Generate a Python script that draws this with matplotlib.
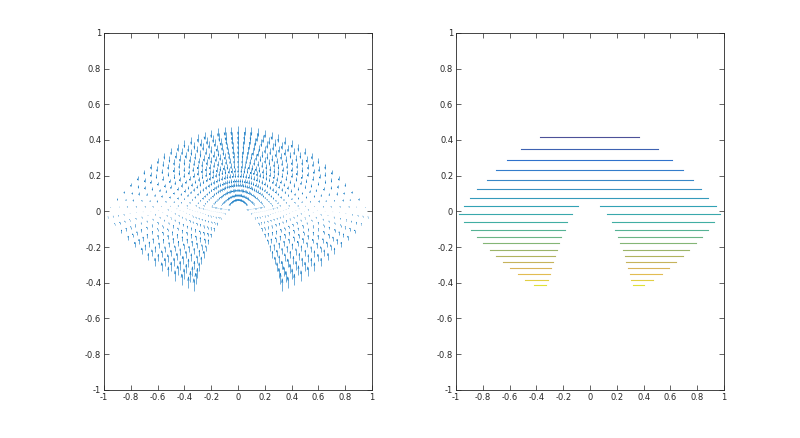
import matplotlib
matplotlib.use("Agg")
import matplotlib.pyplot as plt
import numpy as np
from matplotlib.collections import LineCollection
from matplotlib.colors import LinearSegmentedColormap

# ---- quiver grid: outer tips of the rays ----
centre_up = (0.0, 0.04)
centre_low = (0.0, 0.03)
up_tip_x = [-0.95, -0.90, -0.85, -0.80, -0.75, -0.70, -0.65, -0.60, -0.55, -0.50,
            -0.45, -0.40, -0.35, -0.30, -0.25, -0.20, -0.15, -0.10, -0.05, 0.00,
            0.05, 0.10, 0.15, 0.20, 0.25, 0.30, 0.35, 0.40, 0.45, 0.50,
            0.55, 0.60, 0.65, 0.70, 0.75, 0.80, 0.85, 0.90, 0.95]
up_tip_y = [0.026, 0.072, 0.116, 0.158, 0.197, 0.234, 0.268, 0.300, 0.329, 0.355,
            0.378, 0.398, 0.417, 0.433, 0.447, 0.458, 0.466, 0.472, 0.475, 0.476,
            0.475, 0.472, 0.466, 0.458, 0.447, 0.433, 0.417, 0.398, 0.378, 0.355,
            0.329, 0.300, 0.268, 0.234, 0.197, 0.158, 0.116, 0.072, 0.026]
low_tip_x = [-0.97, -0.92, -0.87, -0.82, -0.77, -0.72, -0.67, -0.62, -0.57, -0.52,
             -0.47, -0.42, -0.37, -0.33,
             0.33, 0.37, 0.42, 0.47, 0.52, 0.57, 0.62, 0.67, 0.72, 0.77,
             0.82, 0.87, 0.92, 0.97]
low_tip_y = [-0.035, -0.078, -0.120, -0.160, -0.200, -0.238, -0.274, -0.306, -0.336, -0.364,
             -0.390, -0.413, -0.432, -0.445,
             -0.445, -0.432, -0.413, -0.390, -0.364, -0.336, -0.306, -0.274, -0.238, -0.200,
             -0.160, -0.120, -0.078, -0.035]
# fraction along each ray (x) and, for the lower lobes, the matching y fraction
up_ring = [0.07, 0.13, 0.20, 0.27, 0.33, 0.40, 0.47, 0.53, 0.60, 0.67, 0.73, 0.80,
           0.87, 0.93, 1.0]
low_ring_x = [0.20, 0.30, 0.39, 0.47, 0.54, 0.61, 0.67, 0.73, 0.78, 0.83, 0.88, 0.92, 0.96, 1.0]
low_ring_y = [0.04, 0.09, 0.15, 0.22, 0.29, 0.37, 0.45, 0.53, 0.61, 0.69, 0.77, 0.85, 0.92, 1.0]

# ---- contour lines of the right panel (level height, left/right ends) ----
lev_y = [0.415, 0.349, 0.289, 0.231, 0.177, 0.125, 0.076, 0.030, -0.017, -0.062,
         -0.103, -0.142, -0.179, -0.217, -0.252, -0.286, -0.319, -0.351, -0.383, -0.415]
lev_x0 = [-0.375, -0.517, -0.623, -0.703, -0.772, -0.842, -0.894, -0.941, -0.978, -0.938,
          -0.888, -0.842, -0.797, -0.747, -0.700, -0.651, -0.596, -0.541, -0.482, -0.415]
lev_x1 = [0.363, 0.504, 0.613, 0.695, 0.770, 0.829, 0.883, 0.938, 0.970, 0.926,
          0.879, 0.834, 0.790, 0.740, 0.695, 0.643, 0.593, 0.541, 0.472, 0.405]
# gap in the middle of the lower levels (inner ends), None = no gap
gap_x0 = [None] * 7 + [-0.091, -0.135, -0.170, -0.190, -0.214, -0.234, -0.249, -0.264,
                       -0.277, -0.291, -0.301, -0.316, -0.331]
gap_x1 = [None] * 7 + [0.078, 0.128, 0.162, 0.184, 0.207, 0.227, 0.244, 0.262,
                       0.271, 0.284, 0.296, 0.306, 0.318]

parula = LinearSegmentedColormap.from_list("parula", [
    (0.208, 0.166, 0.529), (0.012, 0.388, 0.882), (0.078, 0.520, 0.830),
    (0.024, 0.640, 0.750), (0.130, 0.720, 0.630), (0.440, 0.750, 0.420),
    (0.750, 0.730, 0.260), (0.990, 0.740, 0.240), (0.976, 0.983, 0.054)])

ticks = np.arange(-1, 1.01, 0.2)
tick_lbl = ["-1", "-0.8", "-0.6", "-0.4", "-0.2", "0", "0.2", "0.4", "0.6", "0.8", "1"]


def style(ax):
    ax.set_xlim(-1, 1)
    ax.set_ylim(-1, 1)
    ax.set_xticks(ticks)
    ax.set_yticks(ticks)
    ax.set_xticklabels(tick_lbl)
    ax.set_yticklabels(tick_lbl)
    ax.tick_params(direction="in", length=3.5, width=0.5, labelsize=6,
                   colors="#262626", top=True, right=True, pad=2)
    for s in ax.spines.values():
        s.set_color("#262626")
        s.set_linewidth(0.6)


fig = plt.figure(figsize=(8, 4.38), dpi=100)
ax1 = fig.add_axes([0.13, 0.11, 0.335, 0.815])
ax2 = fig.add_axes([0.57, 0.11, 0.335, 0.815])

# left: quiver on the ray grid, vertical field
tx = np.array(up_tip_x)
ty = np.array(up_tip_y)
s = np.array(up_ring)[:, None]
Xu = centre_up[0] + s * (tx - centre_up[0])
Yu = centre_up[1] + s * (ty - centre_up[1])

lx = np.array(low_tip_x)
ly = np.array(low_tip_y)
sx = np.array(low_ring_x)[:, None]
sy = np.array(low_ring_y)[:, None]
Xl = centre_low[0] + sx * (lx - centre_low[0])
Yl = centre_low[1] + sy * (ly - centre_low[1])

X = np.concatenate([Xu.ravel(), Xl.ravel()])
Y = np.concatenate([Yu.ravel(), Yl.ravel()])
V = (np.exp(-Y) - 1) * 0.12

# matlab style arrows: a shaft and an open two-line head
alpha, beta = 0.33, 0.25
segs = []
for x, y, v in zip(X, Y, V):
    tip = (x, y + v)
    segs.append([(x, y), tip])
    segs.append([(x - alpha * beta * v, y + v - alpha * v), tip,
                 (x + alpha * beta * v, y + v - alpha * v)])
ax1.add_collection(LineCollection(segs, colors=[(0.12, 0.5, 0.78)], linewidths=0.45))
style(ax1)

# right: horizontal contour lines (thin lines read a little greyer)
cols = parula(np.linspace(0.02, 1.0, len(lev_y)))[:, :3]
cols = 0.72 * cols + 0.28 * np.array([0.62, 0.62, 0.62])
for i, yv in enumerate(lev_y):
    if gap_x0[i] is None:
        ax2.plot([lev_x0[i], lev_x1[i]], [yv, yv], color=cols[i], lw=0.8)
    else:
        ax2.plot([lev_x0[i], gap_x0[i]], [yv, yv], color=cols[i], lw=0.8)
        ax2.plot([gap_x1[i], lev_x1[i]], [yv, yv], color=cols[i], lw=0.8)
style(ax2)

fig.savefig("out.png", dpi=100)
